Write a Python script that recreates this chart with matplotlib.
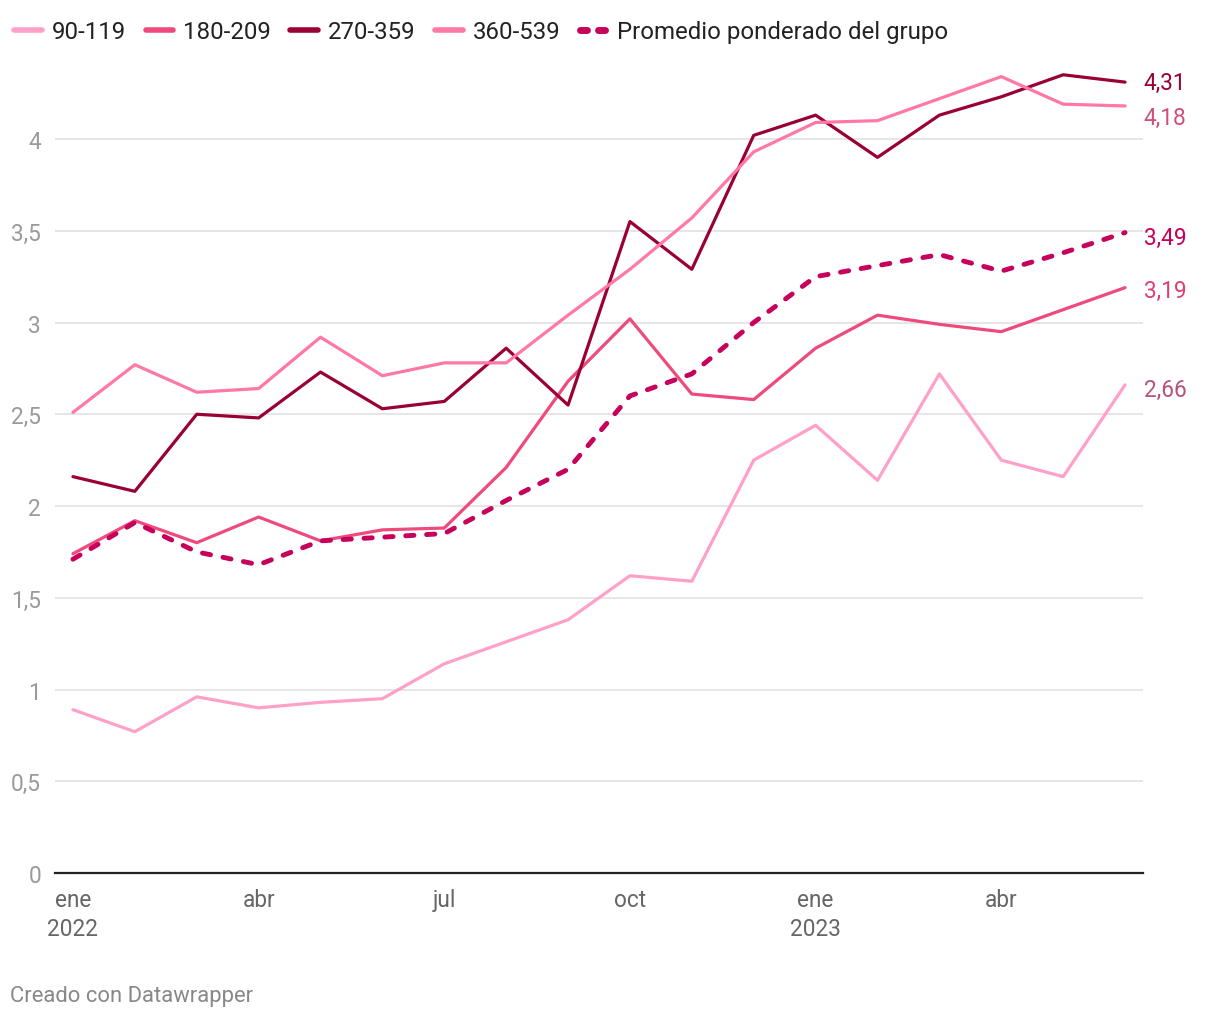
import matplotlib
matplotlib.use("Agg")
import matplotlib.pyplot as plt
from matplotlib.lines import Line2D

plt.rcParams["font.family"] = ["Roboto", "DejaVu Sans"]

# monthly, ene 2022 .. jun 2023
months = list(range(18))
tick_pos = [0, 3, 6, 9, 12, 15]
tick_labels = ["ene\n2022", "abr", "jul", "oct", "ene\n2023", "abr"]

s_90_119 = [0.89, 0.77, 0.96, 0.90, 0.93, 0.95, 1.14, 1.26, 1.38, 1.62, 1.59, 2.25,
            2.44, 2.14, 2.72, 2.25, 2.16, 2.66]
s_180_209 = [1.74, 1.92, 1.80, 1.94, 1.81, 1.87, 1.88, 2.21, 2.68, 3.02, 2.61, 2.58,
             2.86, 3.04, 2.99, 2.95, 3.07, 3.19]
s_270_359 = [2.16, 2.08, 2.50, 2.48, 2.73, 2.53, 2.57, 2.86, 2.55, 3.55, 3.29, 4.02,
             4.13, 3.90, 4.13, 4.23, 4.35, 4.31]
s_360_539 = [2.51, 2.77, 2.62, 2.64, 2.92, 2.71, 2.78, 2.78, 3.04, 3.29, 3.57, 3.93,
             4.09, 4.10, 4.22, 4.34, 4.19, 4.18]
promedio = [1.71, 1.91, 1.75, 1.68, 1.81, 1.83, 1.85, 2.03, 2.20, 2.60, 2.72, 3.00,
            3.25, 3.31, 3.37, 3.28, 3.38, 3.49]

series = [
    ("90-119", s_90_119, "#ffa0c9", "#b5527e", "-"),
    ("180-209", s_180_209, "#ef4a7c", "#de3f70", "-"),
    ("270-359", s_270_359, "#990033", "#990033", "-"),
    ("360-539", s_360_539, "#ff78a6", "#cf4f7c", "-"),
    ("Promedio ponderado del grupo", promedio, "#c6005b", "#c6005b", "--"),
]

W, H = 1220, 1020
fig = plt.figure(figsize=(W / 100, H / 100), dpi=100)
left, right, bottom, top = 55, 1143, 874, 60
ax = fig.add_axes([left / W, 1 - bottom / H, (right - left) / W, (bottom - top) / H])

for name, vals, col, lcol, ls in series:
    if ls == "--":
        ax.plot(months, vals, color=col, lw=3.5, ls=(0, (1.7, 2.6)),
                dash_capstyle="round", zorder=4)
    else:
        ax.plot(months, vals, color=col, lw=2.3, solid_capstyle="round", zorder=3)

# end labels (small nudges where labels sit in the reference)
label_offsets = {"90-119": -0.025, "180-209": -0.015, "270-359": 0.0,
                 "360-539": -0.06, "Promedio ponderado del grupo": -0.025}
for name, vals, col, lcol, ls in series:
    ax.text(months[-1] + 0.3, vals[-1] + label_offsets[name], f"{vals[-1]:.2f}".replace(".", ","),
            color=lcol, fontsize=16.3, va="center", ha="left", clip_on=False)

ax.set_xlim(-0.29, 17.29)
ax.set_ylim(0, 4.436)
yt = [0, 0.5, 1, 1.5, 2, 2.5, 3, 3.5, 4]
ax.set_yticks(yt)
ax.set_yticklabels([("%g" % v).replace(".", ",") for v in yt], color="#9a9a9a", fontsize=16.3)
ax.set_xticks(tick_pos)
ax.set_xticklabels(tick_labels, color="#666666", fontsize=16.3, linespacing=1.3)
ax.tick_params(axis="both", length=0)
ax.tick_params(axis="y", pad=10)
ax.tick_params(axis="x", pad=11)
ax.grid(axis="y", color="#e2e2e2", lw=1.2)
ax.set_axisbelow(True)
for sp in ["top", "right", "left"]:
    ax.spines[sp].set_visible(False)
ax.spines["bottom"].set_color("#222222")
ax.spines["bottom"].set_linewidth(1.6)
ax.spines["bottom"].set_zorder(5)

handles = []
for name, vals, col, lcol, ls in series:
    if ls == "--":
        handles.append(Line2D([], [], color=col, lw=5, ls=(0, (1, 1.6)), dash_capstyle="round"))
    else:
        handles.append(Line2D([], [], color=col, lw=4, solid_capstyle="round"))
leg = fig.legend(handles, [s[0] for s in series], loc="upper left",
                 bbox_to_anchor=(0.0, 1.0 - 7 / H), ncol=5, frameon=False, fontsize=17.3,
                 handlelength=1.15, handletextpad=0.42, columnspacing=0.8, borderaxespad=0.2)
for t in leg.get_texts():
    t.set_color("#222222")

fig.text(10 / W, 1 - 997 / H, "Creado con Datawrapper", color="#888888", fontsize=15.8, va="center")

fig.savefig("out.png", dpi=100)
